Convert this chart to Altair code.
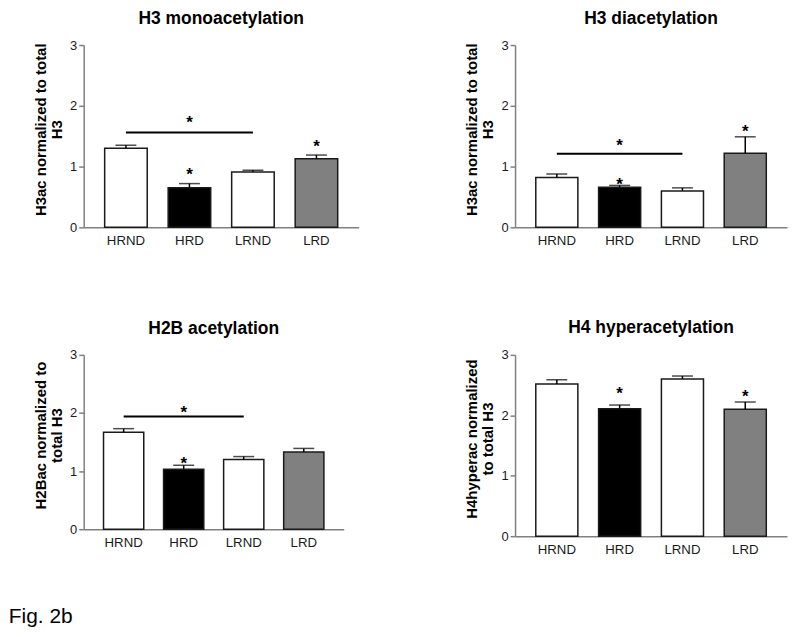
import altair as alt
import pandas as pd

FONT = "Liberation Sans"

groups = ["HRND", "HRD", "LRND", "LRD"]
fills = ["#ffffff", "#000000", "#ffffff", "#808080"]

titles = ["H3 monoacetylation", "H3 diacetylation", "H2B acetylation", "H4 hyperacetylation"]
ytitles = [
    ["H3ac normalized to total", "H3"],
    ["H3ac normalized to total", "H3"],
    ["H2Bac normalized to", "total H3"],
    ["H4hyperac normalized", "to total H3"],
]

# means and SEM
means_h3mono = [1.30, 0.65, 0.91, 1.13]
sem_h3mono = [0.05, 0.07, 0.03, 0.06]
means_h3di = [0.82, 0.66, 0.60, 1.22]
sem_h3di = [0.06, 0.03, 0.05, 0.27]
means_h2b = [1.67, 1.03, 1.20, 1.33]
sem_h2b = [0.06, 0.07, 0.05, 0.06]
means_h4 = [2.52, 2.11, 2.60, 2.10]
sem_h4 = [0.07, 0.06, 0.05, 0.12]

means = [means_h3mono, means_h3di, means_h2b, means_h4]
sems = [sem_h3mono, sem_h3di, sem_h2b, sem_h4]

# significance stars above single bars: (group, y)
star_groups = [["HRD", "LRD"], ["HRD", "LRD"], ["HRD"], ["HRD", "LRD"]]
star_ys = [[0.93, 1.38], [0.77, 1.63], [1.19], [2.41, 2.37]]

# bracket line HRND -> LRND : (y of line, y of star) or None
sig_line_y = [1.56, 1.21, 1.94, None]
sig_star_y = [1.78, 1.41, 2.06, None]

widths = [276, 273, 261, 273]
heights = [183, 183, 175, 182]
title_offsets = [12, 12, 11, 12]


def panel(i):
    df = pd.DataFrame({
        "group": groups,
        "mean": means[i],
        "upper": [m + s for m, s in zip(means[i], sems[i])],
    })
    xscale = alt.Scale(domain=groups, paddingInner=0.33, paddingOuter=0.33)
    xaxis = alt.Axis(title=None, labelAngle=0, ticks=False, labelPadding=6,
                     labelFontSize=13.3, labelColor="#1a1a1a", labelFont=FONT,
                     domainColor="#808080", domainWidth=1.5)
    yscale = alt.Scale(domain=[0, 3], nice=False)
    yaxis = alt.Axis(title=ytitles[i], values=[0, 1, 2, 3], format="d", grid=False,
                     titleFontSize=15, titleFont=FONT, titleFontWeight="bold",
                     titleColor="#000000", titleLineHeight=16, titlePadding=5,
                     titleY=heights[i] / 2 - 7,
                     labelFontSize=13, labelFont=FONT, labelColor="#1a1a1a",
                     labelPadding=2, tickSize=5, tickColor="#808080", tickWidth=1.5,
                     domainColor="#808080", domainWidth=1.5)

    def X(field):
        return alt.X(field, type="nominal", scale=xscale, axis=xaxis)

    def Y(field):
        return alt.Y(field, type="quantitative", scale=yscale, axis=yaxis)

    base = alt.Chart(df)
    bars = base.mark_bar(stroke="#1a1a1a", strokeWidth=1.5).encode(
        x=X("group"), y=Y("mean"),
        color=alt.Color("group:N", scale=alt.Scale(domain=groups, range=fills), legend=None),
    )
    err = base.mark_rule(color="#000000", strokeWidth=1.5).encode(
        x=X("group"), y=Y("mean"), y2="upper:Q")
    caps = base.mark_tick(color="#000000", size=21, thickness=1.5).encode(
        x=X("group"), y=Y("upper"))

    star_style = dict(text="*", fontSize=17, fontWeight="bold", font=FONT,
                      baseline="middle", dy=4, color="#000000")
    sdf = pd.DataFrame({"group": star_groups[i], "y": star_ys[i]})
    stars = alt.Chart(sdf).mark_text(**star_style).encode(x=X("group"), y=Y("y"))

    layers = [bars, err, caps, stars]
    if sig_line_y[i] is not None:
        ldf = pd.DataFrame({"g1": ["HRND"], "g2": ["LRND"], "y": [sig_line_y[i]],
                            "ys": [sig_star_y[i]], "mid": ["HRD"]})
        line = alt.Chart(ldf).mark_rule(color="#000000", strokeWidth=2).encode(
            x=X("g1"), x2="g2:N", y=Y("y"))
        sig_star = alt.Chart(ldf).mark_text(**star_style).encode(x=X("mid"), y=Y("ys"))
        layers += [line, sig_star]

    return alt.layer(*layers).properties(
        width=widths[i], height=heights[i],
        title=alt.TitleParams(titles[i], fontSize=17.5, font=FONT, fontWeight="bold",
                              anchor="middle", frame="group", offset=title_offsets[i],
                              color="#000000"),
    )


p = [panel(i) for i in range(4)]

chart = alt.concat(p[0], p[1], p[2], p[3], columns=2, bounds="flush",
                   spacing=alt.RowColnumber(row=128, column=157)).properties(
    title=alt.TitleParams("Fig. 2b", orient="bottom", anchor="start", fontSize=21,
                          fontWeight="normal", font=FONT, color="#000000",
                          dx=-25, offset=51),
    padding={"left": 0, "top": 0, "right": 5, "bottom": 5},
).configure_view(stroke=None)

chart.save("out.html", embed_options={"renderer": "svg", "actions": False})
